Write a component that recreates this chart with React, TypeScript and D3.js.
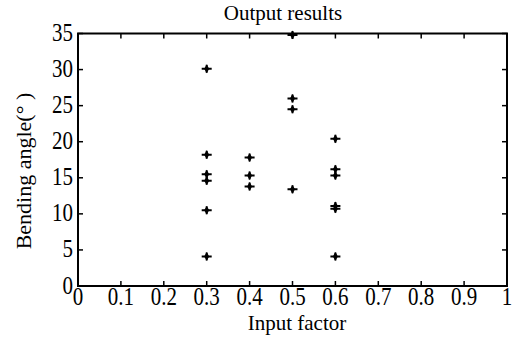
import { useEffect, useRef } from "react"
import * as d3 from "d3"

// data
const inputFactor = [0.3, 0.3, 0.3, 0.3, 0.3, 0.3, 0.4, 0.4, 0.4, 0.5, 0.5, 0.5, 0.5, 0.6, 0.6, 0.6, 0.6, 0.6, 0.6]
const bendingAngle = [30.1, 18.2, 15.5, 14.6, 10.5, 4.1, 17.8, 15.3, 13.8, 34.8, 26.0, 24.5, 13.4, 20.4, 16.2, 15.3, 11.1, 10.7, 4.1]
const xTicks = [0, 0.1, 0.2, 0.3, 0.4, 0.5, 0.6, 0.7, 0.8, 0.9, 1]
const yTicks = [0, 5, 10, 15, 20, 25, 30, 35]

const W = 523
const H = 339
const font = "'Liberation Serif', 'Times New Roman', serif"

export default function App() {
  const svgRef = useRef<SVGSVGElement | null>(null)

  useEffect(() => {
    if (!svgRef.current) return
    const svg = d3.select(svgRef.current)
    svg.selectAll("*").remove()

    const left = 78
    const right = 507
    const top = 33.5
    const bottom = 286

    const x = d3.scaleLinear().domain([0, 1]).range([left, right])
    const y = d3.scaleLinear().domain([0, 35]).range([bottom, top])

    // frame
    svg
      .append("rect")
      .attr("x", left)
      .attr("y", top)
      .attr("width", right - left)
      .attr("height", bottom - top)
      .attr("fill", "none")
      .attr("stroke", "#000")
      .attr("stroke-width", 2)

    // inward ticks on all four sides
    const tickLen = 5
    const ticks = svg.append("g").attr("stroke", "#000").attr("stroke-width", 1.5)
    xTicks.forEach((t) => {
      ticks.append("line").attr("x1", x(t)).attr("x2", x(t)).attr("y1", bottom).attr("y2", bottom - tickLen)
      ticks.append("line").attr("x1", x(t)).attr("x2", x(t)).attr("y1", top).attr("y2", top + tickLen)
    })
    yTicks.forEach((t) => {
      ticks.append("line").attr("x1", left).attr("x2", left + tickLen).attr("y1", y(t)).attr("y2", y(t))
      ticks.append("line").attr("x1", right).attr("x2", right - tickLen).attr("y1", y(t)).attr("y2", y(t))
    })

    const labels = svg.append("g").style("font-family", font).attr("fill", "#000")

    // x tick labels
    labels
      .selectAll(".xt")
      .data(xTicks)
      .enter()
      .append("text")
      .attr("transform", (d) => `translate(${x(d)},305) scale(1,1.15)`)
      .attr("text-anchor", "middle")
      .style("font-size", "21px")
      .text((d) => String(d))

    // y tick labels
    labels
      .selectAll(".yt")
      .data(yTicks)
      .enter()
      .append("text")
      .attr("transform", (d) => `translate(73,${y(d) + 7.5}) scale(1,1.15)`)
      .attr("text-anchor", "end")
      .style("font-size", "21px")
      .text((d) => String(d))

    // title and axis titles
    labels
      .append("text")
      .attr("x", 283)
      .attr("y", 20)
      .attr("text-anchor", "middle")
      .style("font-size", "21px")
      .text("Output results")

    labels
      .append("text")
      .attr("x", 297)
      .attr("y", 330)
      .attr("text-anchor", "middle")
      .style("font-size", "21px")
      .text("Input factor")

    labels
      .append("text")
      .attr("transform", `translate(31,171) rotate(-90)`)
      .attr("text-anchor", "middle")
      .style("font-size", "22px")
      .text("Bending angle(° )")

    // markers
    const pts = inputFactor.map((v, i) => ({ x: v, y: bendingAngle[i] }))
    const marks = svg
      .append("g")
      .selectAll(".pt")
      .data(pts)
      .enter()
      .append("g")
      .attr("transform", (d) => `translate(${x(d.x)},${y(d.y)})`)
    marks
      .append("path")
      .attr("d", d3.symbol(d3.symbolDiamond, 22)() as string)
      .attr("fill", "#000")
    marks
      .append("path")
      .attr("d", "M-5,0H5M0,-4V4")
      .attr("stroke", "#000")
      .attr("stroke-width", 2)
  }, [])

  return (
    <svg
      ref={svgRef}
      width={W}
      height={H}
      style={{ position: "absolute", left: 0, top: 0, background: "#fff" }}
    />
  )
}
